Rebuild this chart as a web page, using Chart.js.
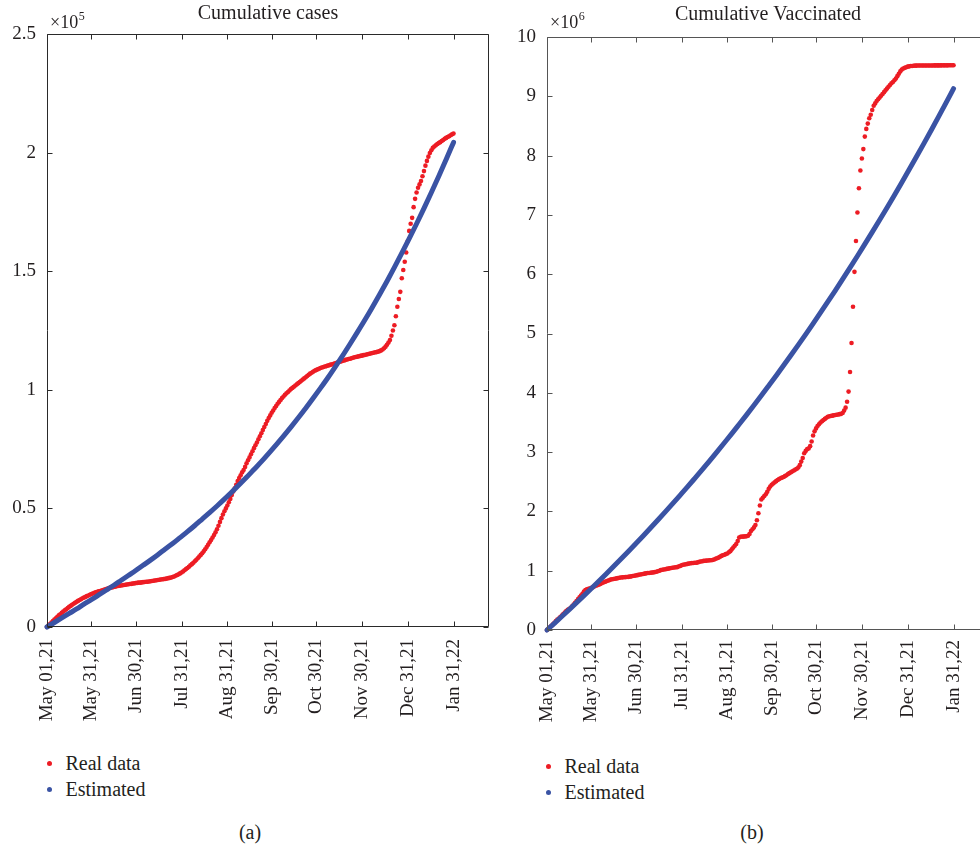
<!DOCTYPE html>
<html>
<head>
<meta charset="utf-8">
<title>Cumulative cases and vaccinated</title>
<script src="https://cdn.jsdelivr.net/npm/chart.js@4.4.1/dist/chart.umd.min.js"></script>
<style>
  html, body { margin: 0; padding: 0; width: 980px; height: 846px; overflow: hidden; background: #fff; }
  canvas { position: absolute; top: 0; }
  #casesChart { left: 0; }
  #vaccChart { left: 500px; }
  .legend { position: absolute; font-family: "Liberation Serif", "Times New Roman", serif; font-size: 20px; color: #231f20; }
  .legend div { position: relative; height: 26px; line-height: 26px; padding-left: 19px; white-space: nowrap; }
  .legend .dot { position: absolute; left: 0; top: 10.5px; width: 5px; height: 5px; border-radius: 50%; }
  .caption { position: absolute; width: 60px; text-align: center; font-family: "Liberation Serif", "Times New Roman", serif; font-size: 20px; line-height: 24px; color: #231f20; }
</style>
</head>
<body>
<canvas id="casesChart" width="495" height="740"></canvas>
<canvas id="vaccChart" width="495" height="740"></canvas>

<div class="legend" style="left:46.5px; top:750px;">
  <div><span class="dot" style="background:#ed1c24"></span>Real data</div>
  <div><span class="dot" style="background:#3a53a4"></span>Estimated</div>
</div>
<div class="legend" style="left:545.5px; top:753px;">
  <div><span class="dot" style="background:#ed1c24"></span>Real data</div>
  <div><span class="dot" style="background:#3a53a4"></span>Estimated</div>
</div>
<div class="caption" style="left:220px; top:820px;">(a)</div>
<div class="caption" style="left:722px; top:820px;">(b)</div>

<script>
// x axis: days since May 01,21
const tickDays = [0, 30, 60, 91, 122, 152, 182, 213, 244, 275];
const tickLabels = ["May 01,21", "May 31,21", "Jun 30,21", "Jul 31,21", "Aug 31,21",
  "Sep 30,21", "Oct 30,21", "Nov 30,21", "Dec 31,21", "Jan 31,22"];
const casesTicks = [0, 0.5, 1, 1.5, 2, 2.5];
const vaccTicks = [0, 1, 2, 3, 4, 5, 6, 7, 8, 9, 10];

// estimated curves are given every 5 days
const EST_STEP = 5;

// cumulative cases, x10^5, one value per day
const realCases = [
  0, 0.006, 0.012, 0.019, 0.025, 0.031, 0.037, 0.043, 0.049, 0.054, 0.060,
  0.065, 0.070, 0.075, 0.080, 0.085, 0.089, 0.094, 0.098, 0.102, 0.106,
  0.110, 0.114, 0.117, 0.121, 0.124, 0.127, 0.130, 0.133, 0.136, 0.139,
  0.141, 0.144, 0.146, 0.148, 0.150, 0.152, 0.154, 0.156, 0.158, 0.160,
  0.162, 0.164, 0.166, 0.167, 0.169, 0.170, 0.172, 0.173, 0.174, 0.175,
  0.176, 0.177, 0.178, 0.179, 0.180, 0.181, 0.182, 0.183, 0.184, 0.185,
  0.186, 0.187, 0.187, 0.188, 0.189, 0.190, 0.191, 0.191, 0.192, 0.193,
  0.194, 0.195, 0.196, 0.197, 0.198, 0.199, 0.200, 0.201, 0.202, 0.203,
  0.204, 0.206, 0.207, 0.209, 0.211, 0.213, 0.216, 0.219, 0.222, 0.226,
  0.230, 0.234, 0.239, 0.244, 0.249, 0.254, 0.260, 0.265, 0.271, 0.277,
  0.283, 0.290, 0.297, 0.304, 0.311, 0.319, 0.328, 0.337, 0.347, 0.357,
  0.367, 0.377, 0.388, 0.399, 0.412, 0.427, 0.443, 0.459, 0.474, 0.488,
  0.500, 0.512, 0.526, 0.540, 0.556, 0.571, 0.585, 0.600, 0.615, 0.628,
  0.640, 0.652, 0.662, 0.675, 0.690, 0.703, 0.715, 0.728, 0.741, 0.754,
  0.766, 0.778, 0.791, 0.804, 0.817, 0.830, 0.843, 0.856, 0.869, 0.881,
  0.892, 0.903, 0.913, 0.923, 0.932, 0.941, 0.949, 0.957, 0.965, 0.972,
  0.979, 0.985, 0.991, 0.997, 1.003, 1.008, 1.013, 1.018, 1.023, 1.028,
  1.033, 1.038, 1.043, 1.048, 1.053, 1.058, 1.063, 1.068, 1.072, 1.076,
  1.080, 1.083, 1.086, 1.089, 1.092, 1.094, 1.096, 1.098, 1.100, 1.102,
  1.104, 1.106, 1.108, 1.110, 1.112, 1.114, 1.116, 1.118, 1.120, 1.122,
  1.124, 1.126, 1.128, 1.130, 1.131, 1.133, 1.135, 1.137, 1.138, 1.140,
  1.141, 1.143, 1.144, 1.146, 1.147, 1.149, 1.150, 1.152, 1.153, 1.155,
  1.156, 1.158, 1.159, 1.161, 1.163, 1.166, 1.170, 1.175, 1.182, 1.190,
  1.199, 1.210, 1.228, 1.250, 1.272, 1.310, 1.350, 1.383, 1.413, 1.470,
  1.505, 1.540, 1.579, 1.626, 1.670, 1.700, 1.725, 1.770, 1.805, 1.832,
  1.852, 1.866, 1.880, 1.900, 1.922, 1.945, 1.965, 1.983, 1.998, 2.010,
  2.020, 2.026, 2.031, 2.036, 2.040, 2.044, 2.049, 2.053, 2.058, 2.062,
  2.066, 2.069, 2.073, 2.077, 2.080
];

const estCases = [
  0, 0.019, 0.038, 0.057, 0.076, 0.096, 0.115, 0.135, 0.155, 0.175,
  0.196, 0.217, 0.238, 0.260, 0.282, 0.305, 0.329, 0.352, 0.377, 0.402,
  0.428, 0.455, 0.482, 0.510, 0.539, 0.569, 0.600, 0.631, 0.664, 0.697,
  0.732, 0.768, 0.805, 0.843, 0.882, 0.922, 0.964, 1.007, 1.051, 1.097,
  1.144, 1.193, 1.243, 1.294, 1.347, 1.402, 1.458, 1.516, 1.576, 1.637,
  1.700, 1.765, 1.832, 1.900, 1.971, 2.043
];

// cumulative vaccinated, x10^6, one value per day
const realVacc = [
  0, 0.02, 0.045, 0.07, 0.095, 0.12, 0.15, 0.175, 0.195, 0.22, 0.245,
  0.27, 0.295, 0.32, 0.34, 0.355, 0.375, 0.40, 0.43, 0.46, 0.49,
  0.52, 0.55, 0.58, 0.61, 0.65, 0.675, 0.685, 0.695, 0.70, 0.71,
  0.72, 0.735, 0.745, 0.755, 0.765, 0.775, 0.79, 0.80, 0.81, 0.82,
  0.83, 0.84, 0.85, 0.855, 0.86, 0.865, 0.87, 0.875, 0.88, 0.885,
  0.888, 0.89, 0.892, 0.894, 0.896, 0.90, 0.905, 0.91, 0.915, 0.92,
  0.925, 0.93, 0.935, 0.94, 0.945, 0.95, 0.955, 0.96, 0.962, 0.965,
  0.968, 0.972, 0.976, 0.982, 0.99, 1.00, 1.01, 1.015, 1.02, 1.025,
  1.03, 1.035, 1.04, 1.045, 1.05, 1.055, 1.057, 1.06, 1.07, 1.08,
  1.09, 1.10, 1.105, 1.11, 1.115, 1.12, 1.125, 1.128, 1.13, 1.133,
  1.135, 1.14, 1.15, 1.155, 1.16, 1.165, 1.168, 1.17, 1.172, 1.175,
  1.177, 1.18, 1.19, 1.20, 1.21, 1.22, 1.235, 1.25, 1.26, 1.27,
  1.28, 1.29, 1.31, 1.33, 1.36, 1.39, 1.42, 1.45, 1.50, 1.56,
  1.573, 1.575, 1.575, 1.578, 1.58, 1.59, 1.62, 1.67, 1.70, 1.73,
  1.77, 1.85, 1.97, 2.10, 2.20, 2.23, 2.26, 2.29, 2.33, 2.38,
  2.42, 2.45, 2.47, 2.49, 2.51, 2.53, 2.545, 2.56, 2.57, 2.58,
  2.595, 2.61, 2.63, 2.645, 2.66, 2.675, 2.69, 2.705, 2.72, 2.74,
  2.78, 2.84, 2.90, 2.98, 3.02, 3.05, 3.06, 3.10, 3.18, 3.28,
  3.35, 3.40, 3.44, 3.47, 3.50, 3.52, 3.54, 3.56, 3.58, 3.595,
  3.605, 3.61, 3.615, 3.62, 3.625, 3.63, 3.635, 3.64, 3.645, 3.66,
  3.70, 3.75, 3.85, 4.02, 4.35, 4.84, 5.45, 6.04, 6.56, 7.04,
  7.45, 7.75, 7.95, 8.11, 8.32, 8.45, 8.54, 8.63, 8.69, 8.77,
  8.84, 8.88, 8.92, 8.95, 8.98, 9.01, 9.04, 9.07, 9.10, 9.13,
  9.16, 9.19, 9.22, 9.24, 9.27, 9.30, 9.34, 9.38, 9.42, 9.45,
  9.47, 9.48, 9.49, 9.50, 9.505, 9.51, 9.512, 9.515, 9.517, 9.518,
  9.519, 9.52, 9.52, 9.52, 9.52, 9.52, 9.52, 9.52, 9.52, 9.52,
  9.52, 9.521, 9.521, 9.521, 9.521, 9.521, 9.522, 9.522, 9.522, 9.522,
  9.522, 9.523, 9.523, 9.523, 9.523
];

const estVacc = [
  0, 0.113, 0.228, 0.344, 0.461, 0.580, 0.700, 0.822, 0.945, 1.070,
  1.196, 1.324, 1.454, 1.586, 1.719, 1.854, 1.991, 2.130, 2.271, 2.413,
  2.558, 2.704, 2.853, 3.004, 3.157, 3.311, 3.469, 3.628, 3.789, 3.953,
  4.120, 4.288, 4.459, 4.632, 4.808, 4.986, 5.167, 5.351, 5.537, 5.725,
  5.916, 6.110, 6.307, 6.507, 6.709, 6.914, 7.122, 7.333, 7.547, 7.764,
  7.983, 8.206, 8.432, 8.661, 8.894, 9.129
];

const RED = "#ed1c24";
const BLUE = "#3a53a4";
const TEXT = "#231f20";
const SERIF = "'Liberation Serif', 'Times New Roman', serif";

Chart.defaults.font.family = SERIF;
Chart.defaults.color = TEXT;

// box round the plot, ticks pointing inward, and the x10^n label
const framePlugin = {
  id: "frame",
  afterDatasetsDraw(chart, args, opts) {
    const { ctx, chartArea: a, scales } = chart;
    const L = Math.round(a.left) + 0.5, R = Math.round(a.right) - 0.5;
    const T = Math.round(a.top) + 0.5, B = Math.round(a.bottom) - 0.5;
    ctx.save();
    ctx.strokeStyle = opts.color;
    ctx.lineWidth = 1;
    ctx.beginPath();
    ctx.rect(L, T, R - L, B - T);
    tickDays.forEach((d) => {
      const px = Math.round(scales.x.getPixelForValue(d)) + 0.5;
      ctx.moveTo(px, B); ctx.lineTo(px, B - 5);
      ctx.moveTo(px, T); ctx.lineTo(px, T + 5);
    });
    opts.yTicks.forEach((v) => {
      const py = Math.round(scales.y.getPixelForValue(v)) + 0.5;
      ctx.moveTo(L, py); ctx.lineTo(L + 5, py);
      ctx.moveTo(R, py); ctx.lineTo(R - 5, py);
    });
    ctx.stroke();

    ctx.fillStyle = TEXT;
    ctx.textBaseline = "alphabetic";
    ctx.textAlign = "left";
    ctx.font = "18px " + SERIF;
    ctx.fillText("\u00d710", a.left + 3, 28);
    const w = ctx.measureText("\u00d710").width;
    ctx.font = "12px " + SERIF;
    ctx.fillText(opts.exponent, a.left + 3 + w + 0.5, 20);
    ctx.restore();
  },
};

let makeChart = (canvasId, opt) => {
  const ctx = document.getElementById(canvasId).getContext("2d");
  const yMax = opt.yTicks[opt.yTicks.length - 1];
  return new Chart(ctx, {
    type: "scatter",
    data: {
      datasets: [
        {
          label: "Estimated",
          data: opt.est.map((v, i) => ({ x: i * EST_STEP, y: v })),
          showLine: true,
          borderColor: BLUE,
          borderWidth: 5,
          borderCapStyle: "round",
          pointRadius: 0,
          cubicInterpolationMode: "monotone",
          order: 0,
          clip: false,
        },
        {
          label: "Real data",
          data: opt.real.map((v, i) => ({ x: i, y: v })),
          backgroundColor: RED,
          borderWidth: 0,
          pointRadius: 2.3,
          order: 1,
          clip: false,
        },
      ],
    },
    options: {
      responsive: false,
      animation: false,
      devicePixelRatio: 1,
      layout: { padding: { left: 0, right: 6, top: 0, bottom: 0 } },
      plugins: {
        legend: { display: false },
        tooltip: { enabled: false },
        title: {
          display: true,
          text: opt.title,
          fullSize: false,
          color: TEXT,
          font: { family: SERIF, size: 20, weight: "normal" },
          padding: opt.titlePad,
        },
        frame: { color: opt.frameColor, yTicks: opt.yTicks, exponent: opt.exponent },
      },
      scales: {
        x: {
          type: "linear",
          min: 0,
          max: 299,
          grid: { display: false, drawTicks: false },
          border: { display: false },
          afterBuildTicks: (s) => { s.ticks = tickDays.map((v) => ({ value: v })); },
          afterFit: (s) => { s.height = opt.xAxisHeight; },
          ticks: {
            autoSkip: false,
            minRotation: 90,
            maxRotation: 90,
            padding: opt.xPad,
            color: TEXT,
            font: { family: SERIF, size: 19 },
            callback: (v, i) => tickLabels[i],
          },
        },
        y: {
          min: 0,
          max: yMax,
          grid: { display: false, drawTicks: false },
          border: { display: false },
          afterBuildTicks: (s) => { s.ticks = opt.yTicks.map((v) => ({ value: v })); },
          afterFit: (s) => { s.width = 47; },
          ticks: {
            padding: 11,
            color: TEXT,
            font: { family: SERIF, size: 19 },
            callback: (v) => String(v),
          },
        },
      },
    },
    plugins: [framePlugin],
  });
};

makeChart("casesChart", {
  title: "Cumulative cases",
  real: realCases,
  est: estCases,
  yTicks: casesTicks,
  exponent: "5",
  frameColor: "#2a2a2a",
  titlePad: { top: 2, bottom: 8 },
  xAxisHeight: 113,
  xPad: 12,
});

makeChart("vaccChart", {
  title: "Cumulative Vaccinated",
  real: realVacc,
  est: estVacc,
  yTicks: vaccTicks,
  exponent: "6",
  frameColor: "#555555",
  titlePad: { top: 3, bottom: 10 },
  xAxisHeight: 110,
  xPad: 10,
});
</script>
</body>
</html>
